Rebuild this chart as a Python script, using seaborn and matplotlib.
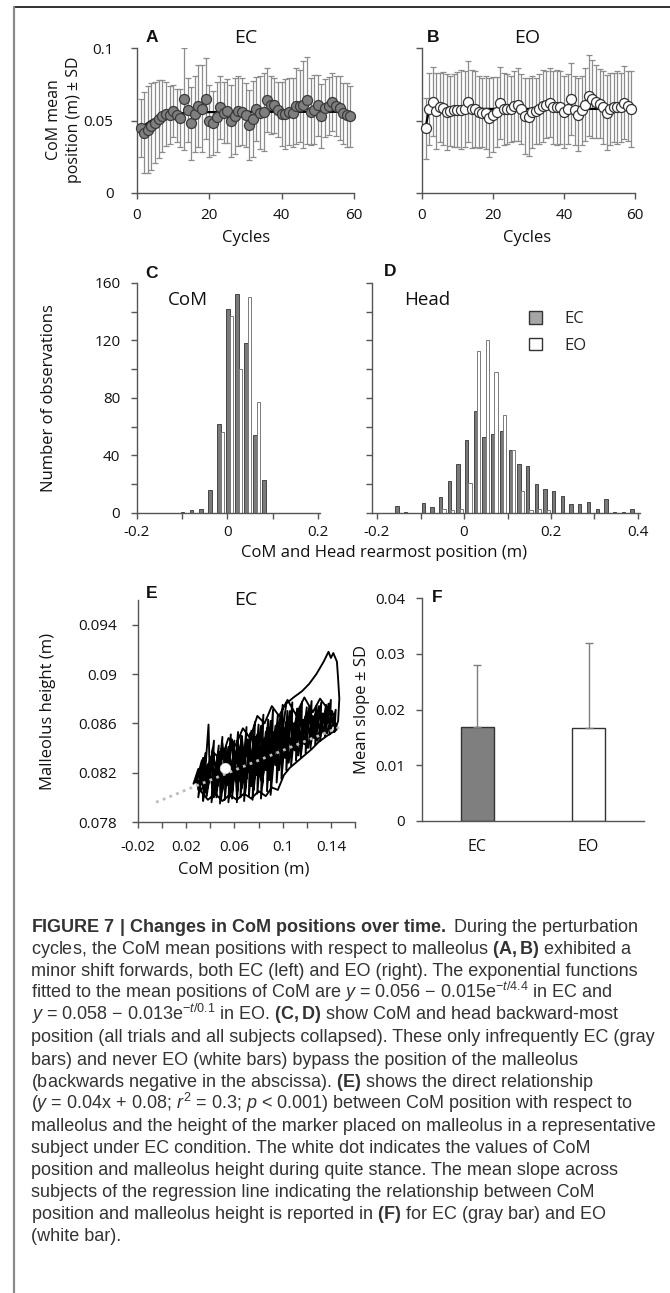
import numpy as np
import pandas as pd
import seaborn as sns
import matplotlib
matplotlib.use("Agg")
import matplotlib.pyplot as plt
from matplotlib.lines import Line2D
from matplotlib.patches import Patch
from matplotlib.ticker import FixedLocator, FixedFormatter, NullFormatter

# ---------------- data ----------------
cycles = list(range(1, 60))
ec_mean = [0.0445, 0.0415, 0.0435, 0.046, 0.0485, 0.051, 0.053, 0.0545, 0.0535, 0.0565,
           0.0535, 0.052, 0.065, 0.0575, 0.048, 0.0545, 0.060, 0.058, 0.065, 0.0495,
           0.048, 0.0525, 0.059, 0.0555, 0.0565, 0.0495, 0.053, 0.0565, 0.056, 0.054,
           0.047, 0.051, 0.058, 0.0555, 0.056, 0.064, 0.061, 0.0605, 0.0575, 0.0545,
           0.0545, 0.056, 0.0555, 0.060, 0.060, 0.061, 0.064, 0.056, 0.0575, 0.0605,
           0.053, 0.0585, 0.060, 0.063, 0.060, 0.0585, 0.055, 0.054, 0.053]
ec_sd = [0.020, 0.028, 0.030, 0.030, 0.028, 0.027, 0.025, 0.022, 0.020, 0.018,
         0.018, 0.020, 0.035, 0.022, 0.025, 0.026, 0.028, 0.030, 0.028, 0.025,
         0.022, 0.024, 0.022, 0.021, 0.022, 0.025, 0.026, 0.024, 0.023, 0.022,
         0.024, 0.026, 0.022, 0.025, 0.027, 0.022, 0.020, 0.019, 0.019, 0.022,
         0.024, 0.023, 0.024, 0.026, 0.025, 0.030, 0.030, 0.023, 0.024, 0.021,
         0.022, 0.020, 0.020, 0.020, 0.021, 0.022, 0.021, 0.022, 0.021]
eo_mean = [0.0445, 0.058, 0.063, 0.0566, 0.059, 0.0584, 0.056, 0.0566, 0.057, 0.0575,
           0.0575, 0.0578, 0.063, 0.058, 0.0578, 0.0557, 0.0555, 0.0555, 0.052, 0.054,
           0.056, 0.062, 0.058, 0.058, 0.058, 0.060, 0.061, 0.058, 0.053, 0.0525,
           0.0557, 0.0566, 0.058, 0.060, 0.061, 0.0623, 0.059, 0.059, 0.059, 0.056,
           0.058, 0.065, 0.057, 0.054, 0.057, 0.061, 0.067, 0.065, 0.063, 0.0617,
           0.059, 0.0555, 0.058, 0.059, 0.059, 0.059, 0.0623, 0.060, 0.058]
eo_sd = [0.021, 0.025, 0.024, 0.026, 0.024, 0.025, 0.026, 0.024, 0.025, 0.026,
         0.027, 0.026, 0.028, 0.027, 0.026, 0.025, 0.024, 0.025, 0.027, 0.026,
         0.024, 0.025, 0.025, 0.024, 0.023, 0.024, 0.025, 0.024, 0.026, 0.027,
         0.025, 0.023, 0.024, 0.025, 0.023, 0.024, 0.025, 0.026, 0.025, 0.025,
         0.024, 0.025, 0.024, 0.025, 0.024, 0.025, 0.028, 0.027, 0.025, 0.024,
         0.025, 0.026, 0.025, 0.024, 0.025, 0.024, 0.025, 0.024, 0.026]
ec_fit_x = [1, 2, 3, 4, 5, 6, 8, 10, 12, 15, 20, 30, 59]
ec_fit_y = [0.0440, 0.0465, 0.0484, 0.0500, 0.0512, 0.0522, 0.0536, 0.0545, 0.0550,
            0.0555, 0.0558, 0.0560, 0.0560]
eo_fit_x = [1, 2, 59]
eo_fit_y = [0.0450, 0.0580, 0.0580]

com_bins = [-0.095, -0.075, -0.055, -0.035, -0.015, 0.005, 0.025, 0.045, 0.065, 0.085]
com_ec = [1, 2, 3, 16, 62, 142, 152, 118, 54, 23]
com_eo = [0, 0, 0, 0, 56, 137, 100, 150, 77, 0]

head_bins = [-0.15, -0.13, -0.11, -0.09, -0.07, -0.05, -0.03, -0.01, 0.01, 0.03,
             0.05, 0.07, 0.09, 0.11, 0.13, 0.15, 0.17, 0.19, 0.21, 0.23,
             0.25, 0.27, 0.29, 0.31, 0.33, 0.35, 0.37, 0.39]
head_ec = [5, 1, 0, 7, 4, 11, 22, 34, 51, 71, 53, 55, 57, 44, 34, 33, 20, 17, 15, 12,
           6.5, 6.5, 7.5, 2.5, 10, 1, 1, 2.5]
head_eo = [0, 0, 0, 0, 0, 2.5, 2, 3, 21, 113, 120, 98, 68, 44, 15, 2, 3, 2, 0, 0,
           0, 0, 0, 0, 0, 0, 0, 0]

traj_x = [0.028, 0.033, 0.030, 0.036, 0.034, 0.0385, 0.0395, 0.043, 0.041, 0.047, 0.045, 0.050,
          0.048, 0.053, 0.052, 0.057, 0.055, 0.060, 0.058, 0.063, 0.062, 0.066, 0.065, 0.070,
          0.068, 0.073, 0.072, 0.077, 0.075, 0.080, 0.079, 0.084, 0.082, 0.088, 0.087, 0.092,
          0.090, 0.096, 0.095, 0.100, 0.099, 0.104, 0.103, 0.108, 0.107, 0.112, 0.111, 0.116,
          0.115, 0.120, 0.119, 0.124, 0.123, 0.128, 0.127, 0.132, 0.131, 0.136, 0.135, 0.140,
          0.139, 0.144, 0.143,
          0.146, 0.147, 0.146, 0.145, 0.142, 0.140, 0.138, 0.134, 0.128, 0.122, 0.116, 0.109, 0.103,
          0.098, 0.094, 0.090, 0.086, 0.082, 0.078, 0.074, 0.070, 0.066, 0.062, 0.058, 0.054,
          0.050, 0.046, 0.042, 0.038, 0.034, 0.030, 0.026,
          0.032, 0.036, 0.040, 0.044, 0.048, 0.051, 0.055, 0.059, 0.063, 0.067, 0.071, 0.075,
          0.079, 0.083, 0.087, 0.091, 0.095, 0.099, 0.103, 0.107, 0.111, 0.115, 0.119, 0.123,
          0.127, 0.131, 0.135, 0.139, 0.143,
          0.138, 0.131, 0.125, 0.118, 0.111, 0.104, 0.097, 0.091, 0.085, 0.079, 0.073, 0.067,
          0.061, 0.055, 0.049, 0.043, 0.037,
          0.032, 0.038, 0.044, 0.050, 0.056, 0.062, 0.068, 0.074, 0.080, 0.086, 0.091, 0.096,
          0.101, 0.106, 0.112, 0.118, 0.124, 0.130, 0.137, 0.145,
          0.141, 0.137, 0.133, 0.129, 0.125, 0.121, 0.117, 0.113, 0.109, 0.105, 0.101, 0.097,
          0.093, 0.089, 0.087, 0.083, 0.080, 0.076, 0.073, 0.069, 0.066, 0.062, 0.060, 0.056,
          0.053, 0.049, 0.047, 0.043, 0.041, 0.037, 0.035, 0.031, 0.029,
          0.030, 0.034, 0.038, 0.042, 0.046, 0.050, 0.054, 0.058, 0.062, 0.066, 0.070, 0.074,
          0.078, 0.082, 0.086, 0.090, 0.094, 0.098, 0.102, 0.106, 0.110, 0.114, 0.118, 0.122,
          0.126, 0.130, 0.134, 0.138, 0.142]
traj_y = [0.0812, 0.0830, 0.0800, 0.0836, 0.0797, 0.0859, 0.0818, 0.0846, 0.0796, 0.0842, 0.0800, 0.0849,
          0.0795, 0.0841, 0.0798, 0.0851, 0.0796, 0.0846, 0.0799, 0.0853, 0.0796, 0.0849, 0.0800, 0.0857,
          0.0797, 0.0852, 0.0801, 0.0861, 0.0798, 0.0859, 0.0803, 0.0867, 0.0799, 0.0863, 0.0805, 0.0871,
          0.0802, 0.0867, 0.0812, 0.0875, 0.0815, 0.0870, 0.0822, 0.0877, 0.0826, 0.0872, 0.0830, 0.0877,
          0.0833, 0.0873, 0.0836, 0.0878, 0.0840, 0.0874, 0.0843, 0.0877, 0.0846, 0.0875, 0.0849, 0.0879,
          0.0851, 0.0871, 0.0853,
          0.0862, 0.0880, 0.0896, 0.0910, 0.0917, 0.0913, 0.0918, 0.0910, 0.0900, 0.0892, 0.0886, 0.0881, 0.0876,
          0.0838, 0.0858, 0.0821, 0.0853, 0.0814, 0.0849, 0.0809, 0.0843, 0.0807, 0.0839, 0.0804, 0.0836,
          0.0805, 0.0833, 0.0807, 0.0827, 0.0809, 0.0823, 0.0811,
          0.0819, 0.0804, 0.0833, 0.0811, 0.0837, 0.0812, 0.0841, 0.0815, 0.0844, 0.0818, 0.0847, 0.0822,
          0.0851, 0.0826, 0.0856, 0.0830, 0.0859, 0.0835, 0.0861, 0.0841, 0.0863, 0.0845, 0.0866, 0.0850,
          0.0867, 0.0855, 0.0869, 0.0860, 0.0866,
          0.0871, 0.0880, 0.0869, 0.0881, 0.0867, 0.0879, 0.0866, 0.0874, 0.0860, 0.0866, 0.0848, 0.0856,
          0.0842, 0.0848, 0.0830, 0.0836, 0.0815,
          0.0805, 0.0798, 0.0803, 0.0797, 0.0802, 0.0798, 0.0803, 0.0799, 0.0805, 0.0801, 0.0808, 0.0806,
          0.0818, 0.0824, 0.0829, 0.0834, 0.0839, 0.0845, 0.0850, 0.0855,
          0.0870, 0.0852, 0.0868, 0.0846, 0.0866, 0.0840, 0.0863, 0.0834, 0.0860, 0.0828, 0.0856, 0.0822,
          0.0853, 0.0814, 0.0850, 0.0809, 0.0847, 0.0806, 0.0844, 0.0804, 0.0840, 0.0802, 0.0837, 0.0800,
          0.0834, 0.0799, 0.0831, 0.0800, 0.0829, 0.0801, 0.0824, 0.0806, 0.0816,
          0.0806, 0.0832, 0.0808, 0.0840, 0.0809, 0.0844, 0.0810, 0.0847, 0.0812, 0.0850, 0.0815, 0.0854,
          0.0818, 0.0858, 0.0822, 0.0862, 0.0826, 0.0866, 0.0832, 0.0870, 0.0838, 0.0872, 0.0843, 0.0873,
          0.0848, 0.0874, 0.0852, 0.0876, 0.0858]
reg_x = [-0.005, 0.15]
reg_y = [0.0796, 0.0858]
stance_x = [0.052]
stance_y = [0.0824]

slope_cats = ["EC", "EO"]
slope_mean = [0.0169, 0.0166]
slope_sd = [0.0111, 0.0153]

caption_lines = [
    r"$\mathbf{FIGURE\ 7\ |\ Changes\ in\ CoM\ positions\ over\ time.}$ During the perturbation",
    r"cycles, the CoM mean positions with respect to malleolus $\mathbf{(A,B)}$ exhibited a",
    "minor shift forwards, both EC (left) and EO (right). The exponential functions",
    r"fitted to the mean positions of CoM are $y$ = 0.056 − 0.015e$^{-t/4.4}$ in EC and",
    r"$y$ = 0.058 − 0.013e$^{-t/0.1}$ in EO. $\mathbf{(C,D)}$ show CoM and head backward-most",
    "position (all trials and all subjects collapsed). These only infrequently EC (gray",
    "bars) and never EO (white bars) bypass the position of the malleolus",
    r"(backwards negative in the abscissa). $\mathbf{(E)}$ shows the direct relationship",
    r"($y$ = 0.04x + 0.08; $r^2$ = 0.3; $p$ < 0.001) between CoM position with respect to",
    "malleolus and the height of the marker placed on malleolus in a representative",
    "subject under EC condition. The white dot indicates the values of CoM",
    "position and malleolus height during quite stance. The mean slope across",
    "subjects of the regression line indicating the relationship between CoM",
    r"position and malleolus height is reported in $\mathbf{(F)}$ for EC (gray bar) and EO",
    "(white bar).",
]

# ---------------- style ----------------
sns.set_style("ticks")
plt.rcParams["font.family"] = ["Open Sans", "DejaVu Sans"]
plt.rcParams["mathtext.fontset"] = "custom"
plt.rcParams["mathtext.rm"] = "Liberation Sans"
plt.rcParams["mathtext.it"] = "Liberation Sans:italic"
plt.rcParams["mathtext.bf"] = "Liberation Sans:bold"

W, H = 670, 1293
fig = plt.figure(figsize=(W / 100, H / 100), dpi=100)
fig.patch.set_facecolor("white")


def rect(l, t, r, b):
    return [l / W, 1 - b / H, (r - l) / W, (b - t) / H]


def fx(x):
    return x / W


def fy(y):
    return 1 - y / H


AX = "#555555"


def style(ax, ypad, xpad, tick_len=4):
    sns.despine(ax=ax)
    for s in ("left", "bottom"):
        ax.spines[s].set_color(AX)
        ax.spines[s].set_linewidth(1.0)
    ax.tick_params(axis="both", direction="out", length=tick_len, width=1, color=AX,
                   labelsize=11, labelcolor="#111111")
    ax.tick_params(axis="y", pad=ypad)
    ax.tick_params(axis="x", pad=xpad)
    ax.set_facecolor("none")
    ax.grid(False)
    ax.set_xlabel("")
    ax.set_ylabel("")


def txt(x, y, s, size, **kw):
    kw.setdefault("ha", "center")
    kw.setdefault("va", "center")
    kw.setdefault("color", "#111111")
    fig.text(fx(x), fy(y), s, fontsize=size, **kw)


def letter(x, y, s):
    fig.text(fx(x), fy(y), s, fontsize=12.5, fontweight="bold", family="Liberation Sans",
             ha="center", va="center", color="#111111")


# ---------------- A / B ----------------
for (l, r), mean, sd, fx_, fy_, face, edge in [
        ((137, 354), ec_mean, ec_sd, ec_fit_x, ec_fit_y, "#7f7f7f", "#3a3a3a"),
        ((422, 635), eo_mean, eo_sd, eo_fit_x, eo_fit_y, "white", "#333333")]:
    ax = fig.add_axes(rect(l, 48, r, 193))
    ax.errorbar(cycles, mean, yerr=sd, fmt="none", ecolor="#8c8c8c", elinewidth=0.9,
                capsize=2.3, capthick=0.9, zorder=1)
    sns.lineplot(x=fx_, y=fy_, color="black", lw=1.6, ax=ax, sort=False, estimator=None,
                 zorder=2)
    sns.scatterplot(x=cycles, y=mean, s=52, color=face, edgecolor=edge, linewidth=0.9,
                    ax=ax, zorder=3)
    ax.set_xlim(0, 60)
    ax.set_ylim(0, 0.1)
    ax.xaxis.set_major_locator(FixedLocator([0, 20, 40, 60]))
    ax.xaxis.set_major_formatter(FixedFormatter(["0", "20", "40", "60"]))
    ax.yaxis.set_major_locator(FixedLocator([0, 0.05, 0.1]))
    if l < 300:
        ax.yaxis.set_major_formatter(FixedFormatter(["0", "0.05", "0.1"]))
    else:
        ax.yaxis.set_major_formatter(NullFormatter())
    style(ax, ypad=13, xpad=7)
    for c in ax.collections:
        c.set_clip_on(False)

letter(152, 38, "A")
txt(246, 38, "EC", 14)
letter(433, 38, "B")
txt(527, 38, "EO", 14)
txt(246, 238, "Cycles", 12)
txt(527, 238, "Cycles", 12)
txt(64, 120, "CoM mean\nposition (m) ± SD", 11.5, rotation=90, linespacing=1.3)

# ---------------- C / D ----------------
bw = 0.0075
axC = fig.add_axes(rect(137, 283, 320, 513))
axD = fig.add_axes(rect(372, 283, 640, 513))
for ax, bins, ecv, eov in [(axC, com_bins, com_ec, com_eo), (axD, head_bins, head_ec, head_eo)]:
    b = np.array(bins)
    ax.bar(b - bw / 2, ecv, width=bw, color="#7a7a7a", edgecolor="#333333", linewidth=0.6,
           zorder=2)
    ax.bar(b + bw / 2, eov, width=bw, color="white", edgecolor="#7a7a7a", linewidth=0.7,
           zorder=2)
    ax.set_ylim(0, 160)
    ax.yaxis.set_major_locator(FixedLocator(list(range(0, 161, 20))))
axC.set_xlim(-0.2, 0.205)
axC.xaxis.set_major_locator(FixedLocator([-0.2, -0.1, 0, 0.1, 0.2]))
axC.xaxis.set_major_formatter(FixedFormatter(["-0.2", "", "0", "", "0.2"]))
axC.yaxis.set_major_formatter(FixedFormatter(["0", "", "40", "", "80", "", "120", "", "160"]))
style(axC, ypad=8, xpad=5)
axD.set_xlim(-0.2115, 0.4046)
axD.xaxis.set_major_locator(FixedLocator([-0.2, -0.1, 0, 0.1, 0.2, 0.3, 0.4]))
axD.xaxis.set_major_formatter(FixedFormatter(["-0.2", "", "0", "", "0.2", "", "0.4"]))
axD.yaxis.set_major_formatter(NullFormatter())
style(axD, ypad=8, xpad=5)
axD.legend(handles=[Patch(facecolor="#a6a6a6", edgecolor="#333333", linewidth=1.0),
                    Patch(facecolor="white", edgecolor="#333333", linewidth=1.0)],
           labels=["EC", "EO"], loc="upper left", bbox_to_anchor=(fx(529), fy(311)),
           bbox_transform=fig.transFigure, frameon=False, fontsize=12, handlelength=0.8,
           handleheight=0.8, handletextpad=1.3, labelspacing=0.62, borderpad=0,
           borderaxespad=0)

letter(152, 273, "C")
txt(188, 300, "CoM", 13.5)
letter(390, 272, "D")
txt(427, 300, "Head", 13.5)
txt(384, 553, "CoM and Head rearmost position (m)", 12)
txt(49, 398, "Number of observations", 12, rotation=90)

# ---------------- E ----------------
axE = fig.add_axes(rect(138, 600, 355, 822))
sns.lineplot(x=traj_x, y=traj_y, sort=False, estimator=None, color="black", lw=1.35, ax=axE,
             zorder=2)
sns.lineplot(x=reg_x, y=reg_y, sort=False, estimator=None, color="#bdbdbd", lw=2.0, ax=axE,
             zorder=3, linestyle=(0, (1, 1.6)))
sns.scatterplot(x=stance_x, y=stance_y, s=55, color="white", edgecolor="#dddddd",
                linewidth=0.6, ax=axE, zorder=4)
axE.set_xlim(-0.02, 0.16)
axE.set_ylim(0.078, 0.096)
axE.xaxis.set_major_locator(FixedLocator([-0.02, 0, 0.02, 0.04, 0.06, 0.08, 0.1, 0.12, 0.14, 0.16]))
axE.xaxis.set_major_formatter(FixedFormatter(["-0.02", "", "0.02", "", "0.06", "", "0.1", "",
                                              "0.14", ""]))
axE.yaxis.set_major_locator(FixedLocator([0.078, 0.082, 0.086, 0.09, 0.094]))
axE.yaxis.set_major_formatter(FixedFormatter(["0.078", "0.082", "0.086", "0.09", "0.094"]))
style(axE, ypad=11, xpad=9)
letter(152, 593, "E")
txt(246, 600, "EC", 14)
txt(48, 711, "Malleolus height (m)", 12, rotation=90)
txt(244, 870, "CoM position (m)", 12)

# ---------------- F ----------------
axF = fig.add_axes(rect(422, 598, 644, 821))
sns.barplot(x=slope_cats, y=slope_mean, hue=slope_cats, palette=["#7f7f7f", "white"],
            edgecolor="#333333", linewidth=1.0, width=0.3, errorbar=None, legend=False, ax=axF,
            zorder=2)
axF.errorbar([0, 1], slope_mean, yerr=[[0, 0], slope_sd], fmt="none", ecolor="#7f7f7f",
             elinewidth=1.0, capsize=3, capthick=1.0, zorder=3)
axF.set_xlim(-0.5, 1.5)
axF.set_ylim(0, 0.04)
axF.yaxis.set_major_locator(FixedLocator([0, 0.01, 0.02, 0.03, 0.04]))
axF.yaxis.set_major_formatter(FixedFormatter(["0", "0.01", "0.02", "0.03", "0.04"]))
style(axF, ypad=8, xpad=13)
axF.tick_params(axis="x", length=0, labelsize=11.5)
letter(437, 597, "F")
txt(362, 710, "Mean slope ± SD", 12, rotation=90)

# ---------------- caption ----------------
for i, line in enumerate(caption_lines):
    fig.text(fx(31), fy(932 + 22.1 * i), line, fontsize=13.0, family="Liberation Sans",
             color="#333333", ha="left", va="baseline")

# ---------------- frame ----------------
fig.add_artist(Line2D([fx(14), 1.0], [fy(7), fy(7)], transform=fig.transFigure,
                      color="#222222", lw=1.3))
fig.add_artist(Line2D([fx(14), fx(14)], [fy(7), 0.0], transform=fig.transFigure,
                      color="#8a8a8a", lw=1.6))

fig.savefig("out.png", dpi=100, facecolor="white")
